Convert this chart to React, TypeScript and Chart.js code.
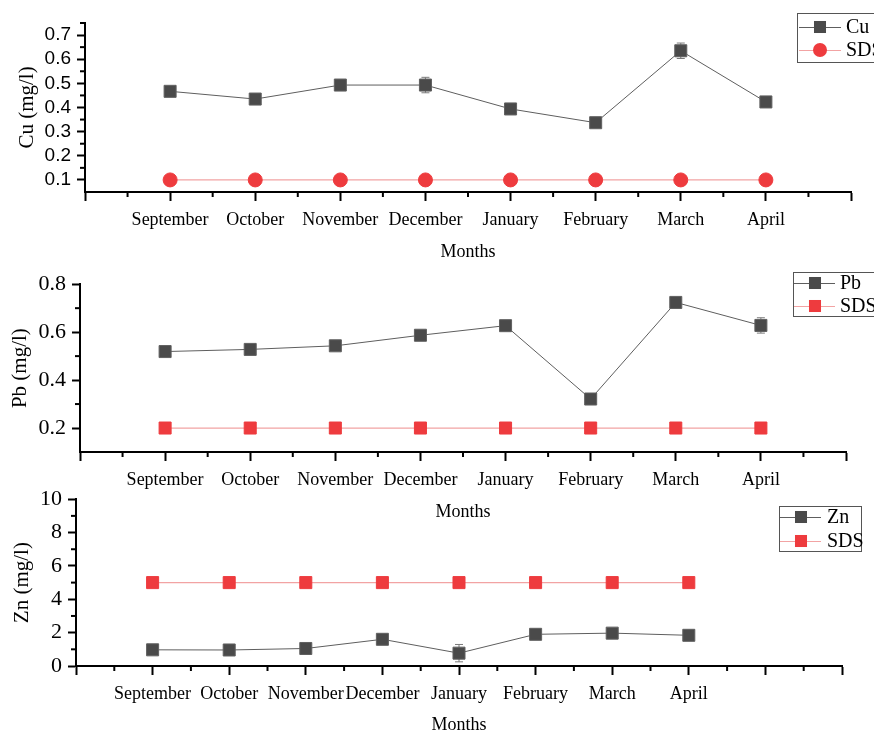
import React, { useEffect, useRef } from 'react';
import { Chart, registerables } from 'chart.js';

Chart.register(...registerables);

// ---------- data ----------
const months = ['September', 'October', 'November', 'December', 'January', 'February', 'March', 'April'];

const cuValues = [0.467, 0.435, 0.493, 0.493, 0.394, 0.337, 0.635, 0.423];
const cuErrors = [0.005, 0.005, 0.006, 0.032, 0.005, 0.005, 0.032, 0.006];
const cuSds = [0.1, 0.1, 0.1, 0.1, 0.1, 0.1, 0.1, 0.1];
const cuYTicks = [0.1, 0.2, 0.3, 0.4, 0.5, 0.6, 0.7];

const pbValues = [0.519, 0.528, 0.543, 0.587, 0.627, 0.321, 0.724, 0.628];
const pbErrors = [0.005, 0.005, 0.006, 0.008, 0.008, 0.008, 0.006, 0.032];
const pbSds = [0.2, 0.2, 0.2, 0.2, 0.2, 0.2, 0.2, 0.2];
const pbYTicks = [0.2, 0.4, 0.6, 0.8];

const znValues = [0.97, 0.96, 1.05, 1.6, 0.77, 1.9, 1.97, 1.84];
const znErrors = [0.05, 0.05, 0.06, 0.08, 0.52, 0.08, 0.07, 0.07];
const znSds = [5, 5, 5, 5, 5, 5, 5, 5];
const znYTicks = [0, 2, 4, 6, 8, 10];

// ---------- styling ----------
const W = 874;
const SERIF = '"Liberation Serif", "Times New Roman", serif';
const SANS = '"Liberation Sans", Arial, sans-serif';
const DARK = '#4a4a4a';
const DARK_LINE = '#5e5e5e';
const RED = '#ee3b3e';
const RED_LINE = '#f2a3a3';

const errorBarsPlugin = {
  id: 'errorBars',
  beforeDatasetsDraw(chart: any) {
    const { ctx } = chart;
    const xs = chart.scales.x;
    const ys = chart.scales.y;
    chart.data.datasets.forEach((ds: any) => {
      if (!ds.errors) return;
      ctx.save();
      ctx.strokeStyle = '#7a7a7a';
      ctx.lineWidth = 1;
      ds.data.forEach((pt: any, i: number) => {
        const e = ds.errors[i];
        if (!e) return;
        const x = xs.getPixelForValue(pt.x);
        const y0 = ys.getPixelForValue(pt.y - e);
        const y1 = ys.getPixelForValue(pt.y + e);
        ctx.beginPath();
        ctx.moveTo(x, y0);
        ctx.lineTo(x, y1);
        ctx.moveTo(x - 4, y0);
        ctx.lineTo(x + 4, y0);
        ctx.moveTo(x - 4, y1);
        ctx.lineTo(x + 4, y1);
        ctx.stroke();
      });
      ctx.restore();
    });
  },
};

const minorTicksPlugin = {
  id: 'minorTicks',
  afterDraw(chart: any) {
    const { ctx, chartArea } = chart;
    const xs = chart.scales.x;
    const ys = chart.scales.y;
    ctx.save();
    ctx.strokeStyle = '#000';
    ctx.lineWidth = 2;
    const xt = xs.ticks.map((t: any) => t.value);
    for (let i = 0; i < xt.length - 1; i++) {
      const px = xs.getPixelForValue((xt[i] + xt[i + 1]) / 2);
      ctx.beginPath();
      ctx.moveTo(px, chartArea.bottom);
      ctx.lineTo(px, chartArea.bottom + 5);
      ctx.stroke();
    }
    const yt = ys.ticks.map((t: any) => t.value);
    const step = yt[1] - yt[0];
    const mids: number[] = [];
    for (let i = 0; i < yt.length - 1; i++) mids.push((yt[i] + yt[i + 1]) / 2);
    const lo = yt[0] - step / 2;
    const hi = yt[yt.length - 1] + step / 2;
    if (lo > ys.min + 1e-9) mids.push(lo);
    if (hi <= ys.max + 1e-9) mids.push(hi);
    for (const v of mids) {
      const py = ys.getPixelForValue(v);
      ctx.beginPath();
      ctx.moveTo(chartArea.left, py);
      ctx.lineTo(chartArea.left - 5, py);
      ctx.stroke();
    }
    ctx.restore();
  },
};

const boxLegendPlugin = {
  id: 'boxLegend',
  afterDraw(chart: any, _args: any, o: any) {
    const { ctx } = chart;
    ctx.save();
    ctx.fillStyle = '#fff';
    ctx.fillRect(o.x, o.y, o.w, o.h);
    ctx.strokeStyle = '#555';
    ctx.lineWidth = 1;
    ctx.strokeRect(o.x + 0.5, o.y + 0.5, o.w, o.h);
    chart.data.datasets.forEach((ds: any, i: number) => {
      const ry = o.rows[i];
      ctx.strokeStyle = ds.borderColor;
      ctx.lineWidth = 1;
      ctx.beginPath();
      ctx.moveTo(o.lineX0, ry + 0.5);
      ctx.lineTo(o.lineX1, ry + 0.5);
      ctx.stroke();
      ctx.fillStyle = ds.pointBackgroundColor;
      if (ds.pointStyle === 'circle') {
        ctx.beginPath();
        ctx.arc(o.markerX, ry, ds.pointRadius, 0, Math.PI * 2);
        ctx.fill();
      } else {
        const s = ds.pointRadius * Math.SQRT1_2;
        ctx.fillRect(o.markerX - s, ry - s, 2 * s, 2 * s);
      }
      ctx.fillStyle = '#000';
      ctx.font = `20px ${SERIF}`;
      ctx.textBaseline = 'middle';
      ctx.textAlign = 'left';
      ctx.fillText(ds.label, o.textX, ry + 1);
    });
    ctx.restore();
  },
};

type Panel = {
  top: number;
  height: number;
  left: number;
  right: number;
  chartTop: number;
  xMax: number;
  yMin: number;
  yMax: number;
  yTicks: number[];
  decimals: number;
  yTickFont: any;
  yTitle: string;
  yTitlePad: number;
  xTitlePadBottom: number;
  xScaleHeight: number;
  metal: string;
  values: number[];
  errors: number[];
  sds: number[];
  sdsStyle: string;
  sdsRadius: number;
  legend: any;
};

function makeChart(canvas: HTMLCanvasElement, p: Panel) {
  const xTicks: number[] = [];
  for (let i = 0; i <= p.xMax; i++) xTicks.push(i);
  return new Chart(canvas, {
    type: 'line',
    data: {
      datasets: [
        {
          label: p.metal,
          data: p.values.map((v, i) => ({ x: i + 1, y: v })),
          errors: p.errors,
          borderColor: DARK_LINE,
          borderWidth: 1,
          pointStyle: 'rect',
          pointRadius: 8.5,
          pointBackgroundColor: DARK,
          pointBorderColor: '#606060',
          pointBorderWidth: 1,
          tension: 0,
        } as any,
        {
          label: 'SDS',
          data: p.sds.map((v, i) => ({ x: i + 1, y: v })),
          borderColor: RED_LINE,
          borderWidth: 1.2,
          pointStyle: p.sdsStyle,
          pointRadius: p.sdsRadius,
          pointBackgroundColor: RED,
          pointBorderColor: RED,
          pointBorderWidth: 1,
          tension: 0,
        } as any,
      ],
    },
    options: {
      animation: false,
      responsive: false,
      maintainAspectRatio: false,
      layout: { padding: { left: 0, top: p.chartTop, right: W - p.right, bottom: 0 } },
      plugins: {
        legend: { display: false },
        tooltip: { enabled: false },
        boxLegend: p.legend,
      } as any,
      scales: {
        x: {
          type: 'linear',
          min: 0,
          max: p.xMax,
          afterBuildTicks: (s: any) => {
            s.ticks = xTicks.map((v) => ({ value: v }));
          },
          afterFit: (s: any) => {
            s.height = p.xScaleHeight;
          },
          ticks: {
            autoSkip: false,
            maxRotation: 0,
            minRotation: 0,
            padding: 8,
            color: '#000',
            font: { family: SERIF, size: 18 },
            callback: (v: any) => months[Number(v) - 1] ?? '',
          },
          grid: { drawOnChartArea: false, drawTicks: true, tickLength: 9, tickWidth: 2, tickColor: '#000' },
          border: { display: true, color: '#000', width: 2 },
          title: {
            display: true,
            text: 'Months',
            color: '#000',
            font: { family: SERIF, size: 18, lineHeight: 1 },
            padding: { top: 0, bottom: p.xTitlePadBottom },
          },
        },
        y: {
          type: 'linear',
          min: p.yMin,
          max: p.yMax,
          afterBuildTicks: (s: any) => {
            s.ticks = p.yTicks.map((v) => ({ value: v }));
          },
          afterFit: (s: any) => {
            s.width = p.left;
          },
          ticks: {
            padding: 6,
            color: '#000',
            font: p.yTickFont,
            callback: (v: any) => Number(v).toFixed(p.decimals),
          },
          grid: { drawOnChartArea: false, drawTicks: true, tickLength: 8, tickWidth: 2, tickColor: '#000' },
          border: { display: true, color: '#000', width: 2 },
          title: {
            display: true,
            text: p.yTitle,
            color: '#000',
            font: { family: SERIF, size: 21, lineHeight: 1.2 },
            padding: { top: p.yTitlePad, bottom: 0 },
          },
        },
      },
    } as any,
    plugins: [errorBarsPlugin, minorTicksPlugin, boxLegendPlugin],
  });
}

const panels: Panel[] = [
  {
    top: 0,
    height: 263,
    left: 85,
    right: 851,
    chartTop: 23,
    xMax: 9,
    yMin: 0.05,
    yMax: 0.75,
    yTicks: cuYTicks,
    decimals: 1,
    yTickFont: { family: SANS, size: 19 },
    yTitle: 'Cu (mg/l)',
    yTitlePad: 15,
    xTitlePadBottom: 2,
    xScaleHeight: 71,
    metal: 'Cu',
    values: cuValues,
    errors: cuErrors,
    sds: cuSds,
    sdsStyle: 'circle',
    sdsRadius: 7,
    legend: { x: 797, y: 13, w: 100, h: 49, rows: [27, 50], lineX0: 799, lineX1: 841, markerX: 820, textX: 846 },
  },
  {
    top: 265,
    height: 256,
    left: 80,
    right: 846,
    chartTop: 19,
    xMax: 9,
    yMin: 0.1,
    yMax: 0.8,
    yTicks: pbYTicks,
    decimals: 1,
    yTickFont: { family: SERIF, size: 22 },
    yTitle: 'Pb (mg/l)',
    yTitlePad: 8,
    xTitlePadBottom: 0,
    xScaleHeight: 69,
    metal: 'Pb',
    values: pbValues,
    errors: pbErrors,
    sds: pbSds,
    sdsStyle: 'rect',
    sdsRadius: 8.5,
    legend: { x: 793, y: 7, w: 100, h: 44, rows: [18, 41], lineX0: 794, lineX1: 835, markerX: 815, textX: 840 },
  },
  {
    top: 480,
    height: 254,
    left: 76,
    right: 842,
    chartTop: 17,
    xMax: 10,
    yMin: 0,
    yMax: 10,
    yTicks: znYTicks,
    decimals: 0,
    yTickFont: { family: SERIF, size: 22 },
    yTitle: 'Zn (mg/l)',
    yTitlePad: 10,
    xTitlePadBottom: 0,
    xScaleHeight: 68,
    metal: 'Zn',
    values: znValues,
    errors: znErrors,
    sds: znSds,
    sdsStyle: 'rect',
    sdsRadius: 8.5,
    legend: { x: 779, y: 26, w: 82, h: 45, rows: [37, 61], lineX0: 780, lineX1: 821, markerX: 801, textX: 827 },
  },
];

function PanelChart({ p }: { p: Panel }) {
  const ref = useRef<HTMLCanvasElement>(null);
  useEffect(() => {
    if (!ref.current) return;
    const c = makeChart(ref.current, p);
    return () => c.destroy();
  }, [p]);
  return (
    <canvas
      ref={ref}
      width={W}
      height={p.height}
      style={{ position: 'absolute', left: 0, top: p.top, width: W, height: p.height }}
    />
  );
}

export default function App() {
  return (
    <div style={{ position: 'absolute', left: 0, top: 0, width: W, height: 734, overflow: 'hidden', background: '#fff' }}>
      {panels.map((p, i) => (
        <PanelChart key={i} p={p} />
      ))}
    </div>
  );
}
